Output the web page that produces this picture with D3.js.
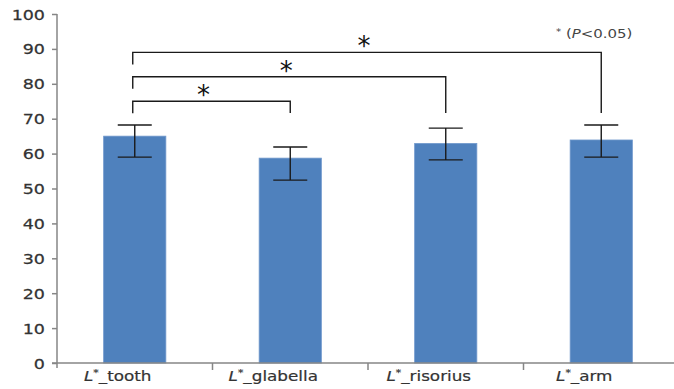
<!DOCTYPE html>
<html>
<head>
<meta charset="utf-8">
<script src="https://cdn.jsdelivr.net/npm/d3@7"></script>
<style>
  html, body { margin: 0; padding: 0; background: #fff; }
  svg { display: block; }
  text { font-family: "DejaVu Sans", Verdana, sans-serif; }
</style>
</head>
<body>
<svg id="chart" width="674" height="389"></svg>
<script>
// Mean L* values per site, with lower / upper error-bar ends
const sites = ["tooth", "glabella", "risorius", "arm"];
const means = [65.0, 58.7, 62.9, 63.9];
const errLow = [59.0, 52.4, 58.2, 59.0];
const errHigh = [68.2, 61.9, 67.3, 68.2];
const yTicks = [0, 10, 20, 30, 40, 50, 60, 70, 80, 90, 100];

// Pairwise comparisons marked significant, with bracket heights (y units)
const pairFrom = ["tooth", "tooth", "tooth"];
const pairTo = ["glabella", "risorius", "arm"];
const pairLevel = [75, 82, 89];
const legBottom = 71.6;

const svg = d3.select("#chart");
const axisColor = "#868686";
const textColor = "#333";
const hStretch = 1.25;

const y = d3.scaleLinear().domain([0, 100]).range([363, 14]);
const x = d3.scaleBand().domain(sites).range([57, 679])
  .paddingInner(0.6).paddingOuter(0.3);
const cx = s => x(s) + x.bandwidth() / 2;

// Bars
svg.append("g").selectAll("rect").data(sites).join("rect")
  .attr("x", d => x(d))
  .attr("y", (d, i) => y(means[i]))
  .attr("width", x.bandwidth())
  .attr("height", (d, i) => y(0) - y(means[i]))
  .attr("fill", "#4f81bd")
  .attr("stroke", "#6f98cc")
  .attr("stroke-width", 0.8);

// Y axis
const yAxis = svg.append("g").attr("transform", "translate(57,0)")
  .call(d3.axisLeft(y).tickValues(yTicks).tickSize(5).tickSizeOuter(0));
yAxis.select(".domain").remove();
yAxis.selectAll(".tick line").attr("stroke", axisColor).attr("stroke-width", 1.5);
yAxis.selectAll(".tick text").remove();
yAxis.selectAll(".tick").append("text")
  .attr("transform", `translate(-12,5) scale(${hStretch},1)`)
  .attr("text-anchor", "end")
  .attr("fill", textColor)
  .attr("stroke", textColor)
  .attr("stroke-width", 0.25)
  .attr("font-size", 14)
  .text(d => d);
svg.append("line")
  .attr("x1", 57).attr("x2", 57).attr("y1", y(100)).attr("y2", y(0) + 5)
  .attr("stroke", axisColor).attr("stroke-width", 1.5);

// X axis line and category separators
svg.append("line")
  .attr("x1", 52).attr("x2", 674).attr("y1", y(0)).attr("y2", y(0))
  .attr("stroke", axisColor).attr("stroke-width", 1.5);
svg.append("g").selectAll("line").data(sites.slice(1)).join("line")
  .attr("x1", d => x(d) - x.step() * x.paddingInner() / 2)
  .attr("x2", d => x(d) - x.step() * x.paddingInner() / 2)
  .attr("y1", y(0)).attr("y2", y(0) + 7)
  .attr("stroke", axisColor).attr("stroke-width", 1.5);

// Category labels: italic L, superscript *, then _site (set slightly left of the bar centre)
const lab = svg.append("g").selectAll("text").data(sites).join("text")
  .attr("transform", d => `translate(${cx(d) - 17},381) scale(1.2,1)`)
  .attr("text-anchor", "middle")
  .attr("fill", textColor)
  .attr("stroke", textColor)
  .attr("stroke-width", 0.2)
  .attr("font-size", 14);
lab.append("tspan").attr("font-style", "italic").text("L");
lab.append("tspan").attr("font-size", 9).attr("dy", -5).text("*");
lab.append("tspan").attr("dy", 5).text(d => "_" + d);

// Error bars
const eb = svg.append("g").attr("stroke", "#1a1a1a").attr("stroke-width", 1.4);
sites.forEach((s, i) => {
  const c = cx(s);
  eb.append("line").attr("x1", c).attr("x2", c).attr("y1", y(errHigh[i])).attr("y2", y(errLow[i]));
  eb.append("line").attr("x1", c - 17).attr("x2", c + 17).attr("y1", y(errHigh[i])).attr("y2", y(errHigh[i]));
  eb.append("line").attr("x1", c - 17).attr("x2", c + 17).attr("y1", y(errLow[i])).attr("y2", y(errLow[i]));
});

// Significance brackets with asterisks
const br = svg.append("g");
pairFrom.forEach((a, i) => {
  const x1 = cx(a) - 2, x2 = cx(pairTo[i]);
  const yl = y(pairLevel[i]);
  br.append("path")
    .attr("d", `M${x1},${yl + 12}V${yl}H${x2}V${y(legBottom)}`)
    .attr("fill", "none").attr("stroke", "#1a1a1a").attr("stroke-width", 1.4);
  const sx = i === 0 ? (x1 + x2) / 2 - 8 : (x1 + x2) / 2 - 3;
  br.append("text")
    .attr("x", sx).attr("y", yl + 3)
    .attr("text-anchor", "middle")
    .attr("font-size", 26)
    .attr("fill", "#111")
    .text("*");
});

// Significance note
const note = svg.append("text")
  .attr("transform", `translate(556,38) scale(1.15,1)`)
  .attr("fill", "#444").attr("font-size", 13);
note.append("tspan").attr("font-size", 9).attr("dy", -3).text("*");
note.append("tspan").attr("dy", 3).text(" (");
note.append("tspan").attr("font-style", "italic").text("P");
note.append("tspan").text("<0.05)");
</script>
</body>
</html>
